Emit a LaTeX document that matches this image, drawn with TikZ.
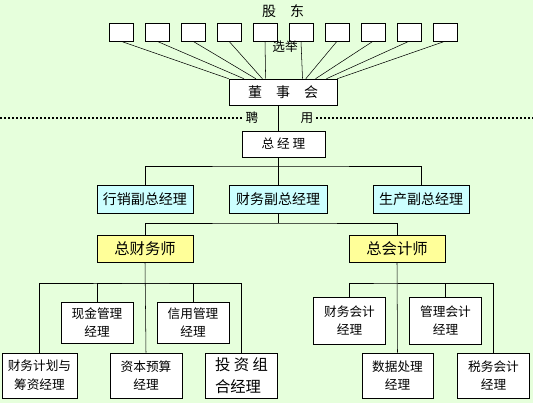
\documentclass[tikz,border=0pt]{standalone}
\usepackage{fontspec}
\newfontfamily\cjk{Noto Sans CJK SC}
\usetikzlibrary{calc}
\definecolor{bggreen}{RGB}{230,255,220}
\definecolor{vpcyan}{RGB}{204,255,255}
\definecolor{chiefyellow}{RGB}{255,255,153}

\begin{document}
\begin{tikzpicture}[x=0.75pt,y=-0.75pt]
    \tikzstyle{every node}=[font=\cjk\fontsize{9.5}{14}\selectfont]
    \tikzstyle{box}=[draw,rectangle,fill=white,inner sep=0pt,align=center]
    \tikzstyle{holder}=[box,minimum width=18pt,minimum height=13.5pt]
    \tikzstyle{vpbox}=[box,fill=vpcyan,minimum width=72pt,minimum height=21pt,font=\cjk\fontsize{10.5}{12}\selectfont]
    \tikzstyle{chief}=[box,fill=chiefyellow,minimum width=72pt,minimum height=20pt,font=\cjk\fontsize{11.5}{13}\selectfont]
    \tikzstyle{mgr}=[box,minimum width=54pt,minimum height=33.75pt]
    \tikzstyle{hire}=[line width=1.5pt,dash pattern=on 1.5pt off 1.5pt]
    %%% background - fixes the margins too
    \fill[bggreen] (0,0) rectangle (533,403);
    \useasboundingbox (0,0) rectangle (533,403);
    %% Shareholders
    \node at (283,11) [font=\cjk\fontsize{10.5}{12}\selectfont] (gd) {股\quad 东};
    \foreach \i in {1,...,10}
        \node at (85+36*\i,32) [holder] (s\i) {};
    \node at (285,47) (vote) {选举};
    % Board
    \node at (283,92) [box,minimum width=81pt,minimum height=19.5pt,font=\cjk\fontsize{10.5}{12}\selectfont] (board) {董\quad 事\quad 会};
    \foreach \i/\f in {1/0.0,2/0.14,3/0.25,4/0.31,5/0.34,6/0.68,7/0.71,8/0.80,9/0.90,10/1.0}
        \draw (s\i.south) -- ($(board.north west)!\f!(board.north east)$);
    % Hire line
    \draw[hire] (0,118) -- (243,118);
    \draw[hire] (316,118) -- (533,118);
    \node at (252,118) (pin) {聘};
    \node at (307,118) (yong) {用};
    % General manager
    \node at (283.5,144) [box,minimum width=62.25pt,minimum height=19.5pt] (gm) {总\ 经\ 理};
    \coordinate (gmbus) at (278,166);
    \draw (board.south -| gmbus) -- (gm.north -| gmbus);
    \draw (gm.south -| gmbus) -- (gmbus);
    % Vice presidents
    \node at (145,199) [vpbox] (vpsale) {行销副总经理};
    \node at (278,199) [vpbox,minimum width=73.5pt] (vpfin) {财务副总经理};
    \node at (421,199) [vpbox] (vpprod) {生产副总经理};
    \draw (vpsale.north) |- (gmbus) -| (vpprod.north);
    \draw (gmbus) -- (vpfin.north);
    % CFO and chief accountant
    \node at (145,248.5) [chief] (cfo) {总财务师};
    \node at (397,248.5) [chief] (cacct) {总会计师};
    \coordinate (finbus) at (278,223);
    \draw (vpfin.south) -- (finbus);
    \draw (cfo.north) |- (finbus) -| (cacct.north);
    % Under CFO
    \node at (97,322.5) [mgr,minimum height=30.75pt] (cash) {现金管理\\经理};
    \node at (193,322.5) [mgr,minimum height=30.75pt] (credit) {信用管理\\经理};
    \node at (39.5,375.5) [mgr,minimum width=56.25pt] (plan) {财务计划与\\筹资经理};
    \node at (146,375.5) [mgr] (budget) {资本预算\\经理};
    \node at (241.5,375.5) [mgr,align=left,font=\cjk\fontsize{11.5}{16.5}\selectfont] (invest) {投\ 资\ 组\\合经理};
    \coordinate (cfobus) at (146,283);
    \draw (cfo.south) -- (budget.north);
    \draw (plan.north) |- (cfobus) -| (invest.north);
    \draw (cash.north) |- (cfobus) -| (credit.north);
    % Under chief accountant
    \node at (349.5,320.5) [mgr,minimum height=35.25pt] (facct) {财务会计\\经理};
    \node at (445.5,320.5) [mgr,minimum height=35.25pt] (macct) {管理会计\\经理};
    \node at (397.5,375.5) [mgr,minimum width=53.25pt] (data) {数据处理\\经理};
    \node at (493.5,375.5) [mgr] (tax) {税务会计\\经理};
    \coordinate (cabus) at (397.5,283);
    \draw (cacct.south) -- (data.north);
    \draw (facct.north) |- (cabus) -| (tax.north);
    \draw (cabus) -| (macct.north);
\end{tikzpicture}
\end{document}
